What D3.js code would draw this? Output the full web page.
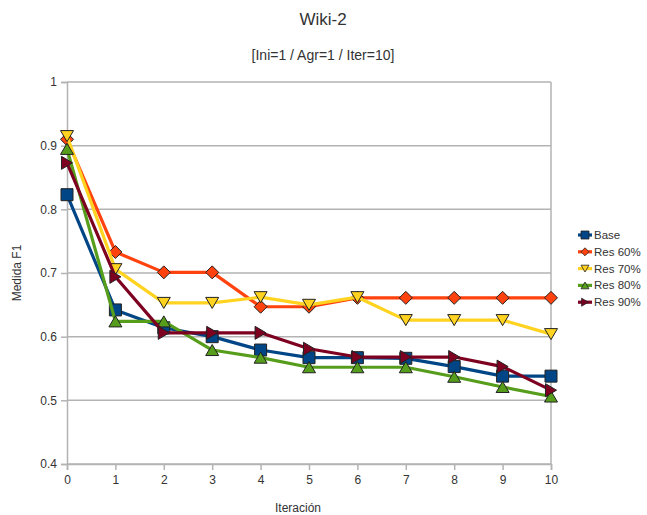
<!DOCTYPE html>
<html>
<head>
<meta charset="utf-8">
<script src="https://cdn.jsdelivr.net/npm/d3@7"></script>
<style>
  html, body { margin: 0; padding: 0; background: #fff; }
  svg { display: block; font-family: "Liberation Sans", Arial, sans-serif; }
</style>
</head>
<body>
<svg id="chart" width="647" height="515"></svg>
<script>
// F1 per iteration for each configuration
const iterations = [0, 1, 2, 3, 4, 5, 6, 7, 8, 9, 10];
const seriesNames = ["Base", "Res 60%", "Res 70%", "Res 80%", "Res 90%"];
const base  = [0.823, 0.642, 0.614, 0.600, 0.579, 0.567, 0.567, 0.566, 0.553, 0.538, 0.538];
const res60 = [0.910, 0.733, 0.701, 0.701, 0.647, 0.647, 0.661, 0.661, 0.661, 0.661, 0.661];
const res70 = [0.915, 0.706, 0.653, 0.653, 0.662, 0.650, 0.662, 0.626, 0.626, 0.626, 0.604];
const res80 = [0.895, 0.624, 0.624, 0.579, 0.567, 0.552, 0.552, 0.552, 0.537, 0.521, 0.506];
const res90 = [0.873, 0.694, 0.606, 0.606, 0.606, 0.581, 0.568, 0.568, 0.568, 0.553, 0.516];
const yTicks = [0.4, 0.5, 0.6, 0.7, 0.8, 0.9, 1];

const colors = ["#004586", "#ff420e", "#ffd320", "#579d1c", "#7e0021"];
const shapes = ["square", "diamond", "down", "up", "right"];
const values = [base, res60, res70, res80, res90];

const svg = d3.select("#chart");
const plot = { left: 67, right: 551, top: 82, bottom: 464 };

const x = d3.scaleLinear().domain([0, 10]).range([plot.left, plot.right]);
const y = d3.scaleLinear().domain([0.4, 1]).range([plot.bottom, plot.top]);

// Titles
svg.append("text").attr("x", 323).attr("y", 25).attr("text-anchor", "middle")
  .attr("font-size", 17).attr("fill", "#333").text("Wiki-2");
svg.append("text").attr("x", 323).attr("y", 60).attr("text-anchor", "middle")
  .attr("font-size", 14).attr("fill", "#333").text("[Ini=1 / Agr=1 / Iter=10]");

// Horizontal grid
svg.append("g").selectAll("line").data(yTicks).join("line")
  .attr("x1", plot.left).attr("x2", plot.right)
  .attr("y1", d => y(d)).attr("y2", d => y(d))
  .attr("stroke", "#b3b3b3").attr("stroke-width", 1.5);

// Right border of plot area
svg.append("line").attr("x1", plot.right).attr("x2", plot.right)
  .attr("y1", plot.top).attr("y2", plot.bottom)
  .attr("stroke", "#b3b3b3").attr("stroke-width", 1.5);

// Axes
const yAxis = d3.axisLeft(y).tickValues(yTicks).tickSize(6).tickPadding(4)
  .tickFormat(d => d3.format("")(d));
const gy = svg.append("g").attr("transform", `translate(${plot.left},0)`).call(yAxis);
const xAxis = d3.axisBottom(x).tickValues(iterations).tickSize(6).tickPadding(5);
const gx = svg.append("g").attr("transform", `translate(0,${plot.bottom})`).call(xAxis);
[gx, gy].forEach(g => {
  g.selectAll(".domain").attr("stroke", "#b3b3b3").attr("stroke-width", 1.5);
  g.selectAll(".tick line").attr("stroke", "#b3b3b3").attr("stroke-width", 1.5);
  g.selectAll(".tick text").attr("fill", "#333").attr("font-size", 12)
    .attr("font-family", "Liberation Sans, Arial, sans-serif");
});

// Axis titles
svg.append("text").attr("x", 298).attr("y", 512).attr("text-anchor", "middle")
  .attr("font-size", 12).attr("fill", "#333").text("Iteración");
svg.append("text").attr("transform", `translate(21,${(plot.top + plot.bottom) / 2}) rotate(-90)`)
  .attr("text-anchor", "middle").attr("font-size", 12).attr("fill", "#333").text("Medida F1");

// Marker paths centered at the origin
function markerPath(shape, s) {
  const h = s / 2;
  switch (shape) {
    case "square": return `M${-h},${-h}H${h}V${h}H${-h}Z`;
    case "diamond": return `M0,${-h}L${h},0L0,${h}L${-h},0Z`;
    case "down": return `M${-h},${-h * 0.85}H${h}L0,${h * 0.85}Z`;
    case "up": return `M${-h},${h * 0.85}H${h}L0,${-h * 0.85}Z`;
    case "right": return `M${-h * 0.85},${-h}V${h}L${h * 0.85},0Z`;
  }
}

const line = d3.line().x((d, i) => x(iterations[i])).y(d => y(d));

values.forEach((vals, k) => {
  const g = svg.append("g");
  g.append("path").datum(vals).attr("d", line)
    .attr("fill", "none").attr("stroke", colors[k]).attr("stroke-width", 3.2)
    .attr("stroke-linejoin", "round");
  g.selectAll("path.m").data(vals).join("path").attr("class", "m")
    .attr("transform", (d, i) => `translate(${x(iterations[i])},${y(d)})`)
    .attr("d", markerPath(shapes[k], k === 0 ? 12 : 13))
    .attr("fill", colors[k]).attr("stroke", "#222").attr("stroke-width", 1);
});

// Legend
const legend = svg.append("g");
seriesNames.forEach((name, k) => {
  const ly = 235 + k * 16.8;
  legend.append("line").attr("x1", 578).attr("x2", 592).attr("y1", ly).attr("y2", ly)
    .attr("stroke", colors[k]).attr("stroke-width", 3.2);
  legend.append("path").attr("transform", `translate(585,${ly})`)
    .attr("d", markerPath(shapes[k], 8))
    .attr("fill", colors[k]).attr("stroke", "#222").attr("stroke-width", 0.8);
  legend.append("text").attr("x", 594).attr("y", ly + 4).attr("font-size", 11.5)
    .attr("fill", "#333").text(name);
});
</script>
</body>
</html>
